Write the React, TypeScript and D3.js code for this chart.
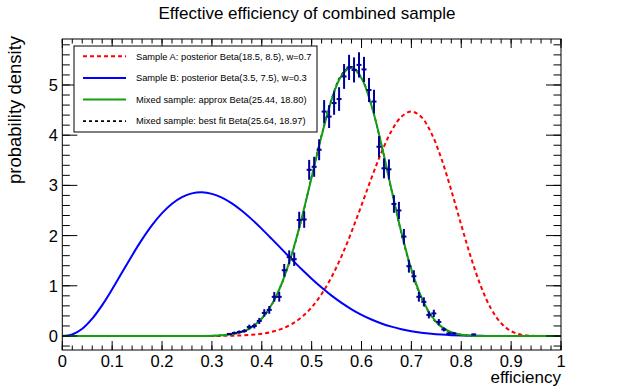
import React from "react";
import * as d3 from "d3";

const W = 623;
const H = 389;

const title = "Effective efficiency of combined sample";
const xTitle = "efficiency";
const yTitle = "probability density";

const xTickValues = [0, 0.1, 0.2, 0.3, 0.4, 0.5, 0.6, 0.7, 0.8, 0.9, 1];
const xTickLabels = ["0", "0.1", "0.2", "0.3", "0.4", "0.5", "0.6", "0.7", "0.8", "0.9", "1"];
const yTickValues = [0, 1, 2, 3, 4, 5];
const yTickLabels = ["0", "1", "2", "3", "4", "5"];

// sampling grid of the curves
const curveX = [
  0, 0.02, 0.04, 0.06, 0.08, 0.1, 0.12, 0.14, 0.16, 0.18, 0.2, 0.22, 0.24, 0.26, 0.28, 0.3,
  0.32, 0.34, 0.36, 0.38, 0.4, 0.42, 0.44, 0.46, 0.48, 0.5, 0.52, 0.54, 0.56, 0.58, 0.6,
  0.62, 0.64, 0.66, 0.68, 0.7, 0.72, 0.74, 0.76, 0.78, 0.8, 0.82, 0.84, 0.86, 0.88, 0.9,
  0.92, 0.94, 0.96, 0.98, 1,
];

const sampleA = [
  0, 0, 0, 0, 0, 0, 0, 0, 0, 0, 0, 0, 0, 0, 0, 0.0009,
  0.0023, 0.0054, 0.0116, 0.0235, 0.0452, 0.0823, 0.1428, 0.2366, 0.3754, 0.5715, 0.8358, 1.1757, 1.5919, 2.0754, 2.6051,
  3.1474, 3.6572, 4.0815, 4.368, 4.471, 4.3625, 4.0418, 3.5365, 2.9011, 2.2108, 1.5453, 0.9739, 0.54, 0.2541, 0.0959,
  0.0264, 0.0045, 0.0003, 0, 0,
];

const sampleB = [
  0, 0.0289, 0.1432, 0.3442, 0.6143, 0.9303, 1.2681, 1.6055, 1.9239, 2.2082, 2.4474, 2.6347, 2.7662, 2.8412, 2.8616, 2.8314,
  2.7558, 2.6411, 2.4945, 2.3231, 2.1339, 1.934, 1.7295, 1.5258, 1.3279, 1.1397, 0.9641, 0.8034, 0.6591, 0.5318, 0.4215,
  0.3278, 0.2497, 0.186, 0.1351, 0.0955, 0.0655, 0.0433, 0.0275, 0.0167, 0.0096, 0.0053, 0.0025, 0.0012, 0.0005, 0.0002,
  0, 0, 0, 0, 0,
];

const mixedApprox = [
  0, 0, 0, 0, 0, 0, 0, 0, 0, 0, 0, 0, 0, 0.0004, 0.0015, 0.0048,
  0.0138, 0.0357, 0.0835, 0.1779, 0.3476, 0.6265, 1.0457, 1.622, 2.3445, 3.1634, 3.9893, 4.7039, 5.1861, 5.3417, 5.1326,
  4.5906, 3.8098, 2.9217, 2.0598, 1.3262, 0.7732, 0.4038, 0.1864, 0.0747, 0.0254, 0.0071, 0.0016, 0.0003, 0, 0,
  0, 0, 0, 0, 0,
];

const mixedFit = [
  0, 0, 0, 0, 0, 0, 0, 0, 0, 0, 0, 0, 0, 0.0004, 0.0014, 0.0046,
  0.0133, 0.0345, 0.081, 0.173, 0.3441, 0.6215, 1.039, 1.614, 2.3365, 3.176, 4.005, 4.725, 5.206, 5.363, 5.143,
  4.592, 3.803, 2.908, 2.043, 1.305, 0.756, 0.392, 0.179, 0.071, 0.024, 0.0066, 0.0015, 0.0003, 0, 0,
  0, 0, 0, 0, 0,
];

// generated sample, bins of width 0.01
const binCenters = [
  0.335, 0.345, 0.355, 0.365, 0.375, 0.385, 0.395, 0.405, 0.415, 0.425, 0.435, 0.445, 0.455, 0.465,
  0.475, 0.485, 0.495, 0.505, 0.515, 0.525, 0.535, 0.545, 0.555, 0.565, 0.575, 0.585, 0.595, 0.605,
  0.615, 0.625, 0.635, 0.645, 0.655, 0.665, 0.675, 0.685, 0.695, 0.705, 0.715, 0.725, 0.735, 0.745,
  0.755, 0.765, 0.775, 0.785, 0.825,
];
const binValues = [
  0.04, 0.06, 0.08, 0.1, 0.18, 0.2, 0.3, 0.46, 0.52, 0.78, 0.78, 1.31, 1.57, 1.53,
  2.31, 2.32, 3.31, 3.37, 3.71, 4.47, 4.37, 4.64, 4.72, 5.17, 5.35, 5.3, 5.4, 5.31,
  4.9, 4.67, 3.77, 3.34, 3.32, 2.63, 2.5, 1.98, 1.39, 1.19, 0.78, 0.68, 0.42, 0.45,
  0.28, 0.13, 0.05, 0.05, 0.03,
];
const binErrors = [
  0.022, 0.027, 0.031, 0.034, 0.046, 0.049, 0.06, 0.074, 0.078, 0.096, 0.096, 0.124, 0.136, 0.134,
  0.165, 0.165, 0.198, 0.199, 0.209, 0.23, 0.227, 0.234, 0.236, 0.247, 0.251, 0.25, 0.252, 0.25,
  0.24, 0.235, 0.211, 0.199, 0.198, 0.176, 0.172, 0.153, 0.128, 0.119, 0.096, 0.09, 0.07, 0.073,
  0.057, 0.039, 0.024, 0.024, 0.019,
];

const legendItems = [
  { label: "Sample A: posterior Beta(18.5, 8.5), w=0.7", color: "#ff0000", dash: "4,3", width: 2 },
  { label: "Sample B: posterior Beta(3.5, 7.5), w=0.3", color: "#0000ff", dash: "", width: 2 },
  { label: "Mixed sample: approx Beta(25.44, 18.80)", color: "#12a012", dash: "", width: 2 },
  { label: "Mixed sample: best fit Beta(25.64, 18.97)", color: "#000000", dash: "3,3", width: 1.6 },
];

const FONT = "'Liberation Sans', Arial, Helvetica, sans-serif";

export default function App() {
  const left = 62.3;
  const right = 561;
  const top = 39;
  const bottom = 350;

  const x = d3.scaleLinear().domain([0, 1]).range([left, right]);
  const y = d3.scaleLinear().domain([-0.279, 5.916]).range([bottom, top]);

  const line = d3
    .line<number>()
    .x((_, i) => x(curveX[i]))
    .y((d) => y(d))
    .curve(d3.curveCatmullRom);

  const xMinor = d3.range(0, 1.0001, 0.02);
  const yMinor = d3.range(-0.2, 5.9, 0.2);

  return (
    <svg
      width={W}
      height={H}
      style={{ position: "absolute", left: 0, top: 0, background: "#fff" }}
      fontFamily={FONT}
    >
      <rect x={0} y={0} width={W} height={H} fill="#fff" />

      <text x={307} y={18.5} fontSize={17} textAnchor="middle" fill="#000">
        {title}
      </text>

      {/* curves */}
      <g fill="none">
        <path d={line(sampleA) ?? ""} stroke="#ff0000" strokeWidth={2} strokeDasharray="4,3" />
        <path d={line(sampleB) ?? ""} stroke="#0000ff" strokeWidth={2} />
        <path d={line(mixedFit) ?? ""} stroke="#000000" strokeWidth={1.6} strokeDasharray="3,3" />
        <path d={line(mixedApprox) ?? ""} stroke="#12a012" strokeWidth={2} />
      </g>

      {/* histogram points */}
      <g stroke="#000099" strokeWidth={2}>
        {binCenters.map((c, i) => (
          <g key={i}>
            <line x1={x(c)} x2={x(c)} y1={y(binValues[i] - binErrors[i])} y2={y(binValues[i] + binErrors[i])} />
            <line x1={x(c - 0.005)} x2={x(c + 0.005)} y1={y(binValues[i])} y2={y(binValues[i])} />
          </g>
        ))}
      </g>

      {/* frame and ticks */}
      <g stroke="#000" strokeWidth={1} fill="none">
        <rect x={left} y={top} width={right - left} height={bottom - top} />
        {xMinor.map((v, i) => (
          <g key={"xm" + i}>
            <line x1={x(v)} x2={x(v)} y1={bottom} y2={bottom - 4.5} />
            <line x1={x(v)} x2={x(v)} y1={top} y2={top + 4.5} />
          </g>
        ))}
        {xTickValues.map((v, i) => (
          <g key={"xM" + i}>
            <line x1={x(v)} x2={x(v)} y1={bottom} y2={bottom - 9} />
            <line x1={x(v)} x2={x(v)} y1={top} y2={top + 9} />
          </g>
        ))}
        {yMinor.map((v, i) => (
          <g key={"ym" + i}>
            <line x1={left} x2={left + 7.5} y1={y(v)} y2={y(v)} />
            <line x1={right} x2={right - 7.5} y1={y(v)} y2={y(v)} />
          </g>
        ))}
        {yTickValues.map((v, i) => (
          <g key={"yM" + i}>
            <line x1={left} x2={left + 15} y1={y(v)} y2={y(v)} />
            <line x1={right} x2={right - 15} y1={y(v)} y2={y(v)} />
          </g>
        ))}
      </g>

      {/* tick labels */}
      <g fontSize={16.5} fill="#000">
        {xTickValues.map((v, i) => (
          <text key={"xl" + i} x={x(v)} y={366.5} textAnchor="middle">
            {xTickLabels[i]}
          </text>
        ))}
        {yTickValues.map((v, i) => (
          <text key={"yl" + i} x={58} y={y(v) + 6} textAnchor="end">
            {yTickLabels[i]}
          </text>
        ))}
      </g>

      <text x={right} y={383} fontSize={17} textAnchor="end" fill="#000">
        {xTitle}
      </text>
      <text
        transform={`translate(20.5, 184) rotate(-90)`}
        fontSize={18.5}
        textAnchor="start"
        fill="#000"
      >
        {yTitle}
      </text>

      {/* legend */}
      <g>
        <rect x={74} y={46} width={243} height={86} fill="#fff" stroke="#000" strokeWidth={1} />
        {legendItems.map((it, i) => {
          const cy = 56.3 + i * 21.6;
          return (
            <g key={"lg" + i}>
              <line
                x1={83}
                x2={126}
                y1={cy}
                y2={cy}
                stroke={it.color}
                strokeWidth={it.width}
                strokeDasharray={it.dash || undefined}
              />
              <text x={136} y={cy + 3.3} fontSize={9.3} fill="#000">
                {it.label}
              </text>
            </g>
          );
        })}
      </g>
    </svg>
  );
}
